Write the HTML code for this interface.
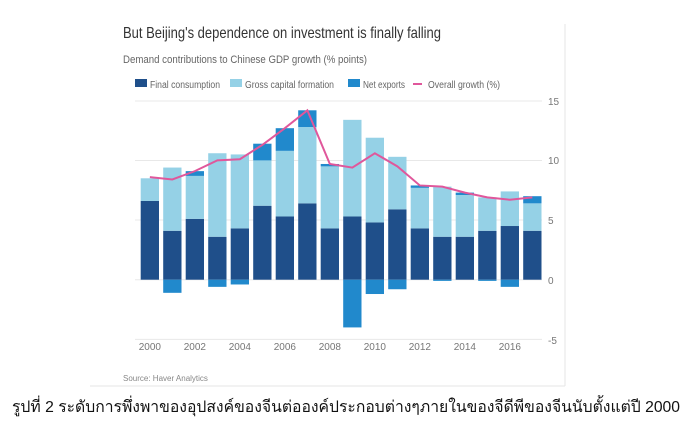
<!DOCTYPE html>
<html><head><meta charset="utf-8"><style>
body{margin:0;background:#fff;width:694px;height:431px;overflow:hidden;font-family:"Liberation Sans","DejaVu Sans",sans-serif}
</style></head><body>
<svg width="694" height="431" xmlns="http://www.w3.org/2000/svg" font-family="Liberation Sans, DejaVu Sans, sans-serif">
<line x1="565" y1="24" x2="565" y2="386" stroke="#e6e6e6"/>
<line x1="90" y1="386" x2="565" y2="386" stroke="#e6e6e6"/>
<text x="123" y="38" font-size="16" fill="#333" textLength="318" lengthAdjust="spacingAndGlyphs">But Beijing's dependence on investment is finally falling</text>
<text x="123" y="63" font-size="11" fill="#666" textLength="244" lengthAdjust="spacingAndGlyphs">Demand contributions to Chinese GDP growth (% points)</text>
<g font-size="10" fill="#666">
<rect x="135" y="79" width="12" height="8" fill="#1f4f8a"/><text x="150" y="88" textLength="70" lengthAdjust="spacingAndGlyphs">Final consumption</text>
<rect x="230" y="79" width="12" height="8" fill="#95d1e6"/><text x="245" y="88" textLength="89" lengthAdjust="spacingAndGlyphs">Gross capital formation</text>
<rect x="348" y="79" width="12" height="8" fill="#2189cc"/><text x="363" y="88" textLength="42" lengthAdjust="spacingAndGlyphs">Net exports</text>
<line x1="413" y1="84" x2="422" y2="84" stroke="#e0579b" stroke-width="2"/><text x="428" y="88" textLength="72" lengthAdjust="spacingAndGlyphs">Overall growth (%)</text>
</g>
<g stroke="#e8e8e8" stroke-width="1">
<line x1="135" y1="101" x2="542" y2="101"/><line x1="135" y1="160.5" x2="542" y2="160.5"/>
<line x1="135" y1="220" x2="542" y2="220"/><line x1="135" y1="279.7" x2="542" y2="279.7"/>
<line x1="135" y1="339.4" x2="542" y2="339.4"/>
</g>
<g font-size="10" fill="#777">
<text x="548" y="105">15</text><text x="548" y="164">10</text><text x="548" y="224">5</text><text x="548" y="284">0</text><text x="548" y="344">-5</text>
</g>
<g id="bars"></g>
<polyline id="ln" fill="none" stroke="#e0579b" stroke-width="2"/>
<g font-size="10" fill="#777" text-anchor="middle" id="xl"></g>
<text x="123" y="381" font-size="8" fill="#888">Source: Haver Analytics</text>
<text x="12" y="412" font-size="16" fill="#111" textLength="668" lengthAdjust="spacingAndGlyphs">รูปที่ 2 ระดับการพึ่งพาของอุปสงค์ของจีนต่อองค์ประกอบต่างๆภายในของจีดีพีของจีนนับตั้งแต่ปี 2000</text>
</svg>
<script>
var d=[[6.6,1.9,0,8.6],[4.1,5.3,-1.1,8.4],[5.1,3.6,0.4,9.1],[3.6,7.0,-0.6,10.0],[4.3,6.2,-0.4,10.1],[6.2,3.8,1.4,11.3],[5.3,5.5,1.9,12.7],[6.4,6.4,1.4,14.2],[4.3,5.2,0.2,9.7],[5.3,8.1,-4.0,9.4],[4.8,7.1,-1.2,10.6],[5.9,4.4,-0.8,9.5],[4.3,3.4,0.2,7.9],[3.6,4.2,-0.1,7.8],[3.6,3.5,0.2,7.3],[4.1,2.8,-0.1,6.9],[4.5,2.9,-0.6,6.7],[4.1,2.3,0.6,6.9]];
var z=279.7,u=11.93,ns="http://www.w3.org/2000/svg",g=document.getElementById('bars'),pts=[],xl=document.getElementById('xl');
function r(x,y0,y1,c){var e=document.createElementNS(ns,'rect');e.setAttribute('x',x);e.setAttribute('width',18.3);e.setAttribute('y',Math.min(y0,y1));e.setAttribute('height',Math.abs(y1-y0));e.setAttribute('fill',c);g.appendChild(e);}
d.forEach(function(v,i){var x=140.7+i*22.5;
r(x,z,z-v[0]*u,'#1f4f8a');var t=v[0]+v[1];r(x,z-v[0]*u,z-t*u,'#95d1e6');
if(v[2]>0)r(x,z-t*u,z-(t+v[2])*u,'#2189cc');else r(x,z,z-v[2]*u,'#2189cc');
pts.push((x+9.15)+','+(z-v[3]*u));
if(i%2==0&&i<17){var e=document.createElementNS(ns,'text');e.setAttribute('x',x+9.15);e.setAttribute('y',350);e.textContent=2000+i;xl.appendChild(e);}});
document.getElementById('ln').setAttribute('points',pts.join(' '));
</script>
</body></html>
